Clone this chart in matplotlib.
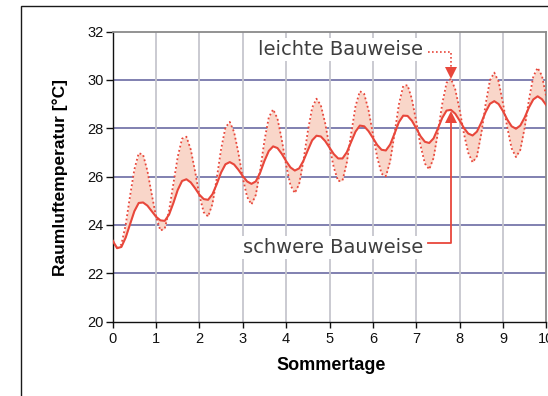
import numpy as np
import matplotlib
matplotlib.use("Agg")
import matplotlib.pyplot as plt
from matplotlib.patches import Rectangle

# Time axis: summer days, sampled every 0.1 day
days = np.round(np.arange(101) * 0.1, 1)

# Room air temperature [°C], heavy construction (solid line)
heavy = [
    23.35, 23.04, 23.09, 23.48, 24.03, 24.57, 24.91, 24.93, 24.80, 24.57,
    24.34, 24.19, 24.17, 24.43, 24.91, 25.45, 25.82, 25.89, 25.76, 25.52,
    25.25, 25.07, 25.04, 25.27, 25.69, 26.17, 26.51, 26.60, 26.50, 26.28,
    26.02, 25.80, 25.70, 25.80, 26.16, 26.65, 27.06, 27.25, 27.18, 26.94,
    26.64, 26.38, 26.25, 26.34, 26.66, 27.09, 27.50, 27.69, 27.66, 27.47,
    27.20, 26.93, 26.75, 26.75, 27.01, 27.44, 27.86, 28.11, 28.08, 27.88,
    27.60, 27.31, 27.11, 27.08, 27.33, 27.78, 28.25, 28.52, 28.51, 28.31,
    28.00, 27.67, 27.44, 27.39, 27.58, 27.99, 28.43, 28.73, 28.76, 28.60,
    28.32, 28.01, 27.78, 27.70, 27.86, 28.23, 28.67, 29.01, 29.12, 29.00,
    28.71, 28.36, 28.08, 27.98, 28.11, 28.44, 28.86, 29.19, 29.32, 29.20,
    28.95,
]

# Room air temperature [°C], light construction (dotted line)
light = [
    23.35, 23.04, 23.19, 24.01, 25.20, 26.30, 26.97, 26.91, 26.24, 25.27,
    24.35, 23.77, 23.85, 24.60, 25.71, 26.82, 27.57, 27.65, 27.12, 26.22,
    25.21, 24.52, 24.35, 24.87, 25.93, 27.14, 28.03, 28.26, 27.84, 26.97,
    25.94, 25.16, 24.85, 25.24, 26.25, 27.49, 28.45, 28.78, 28.40, 27.52,
    26.47, 25.64, 25.32, 25.69, 26.67, 27.87, 28.85, 29.22, 28.95, 28.21,
    27.23, 26.37, 25.81, 25.84, 26.59, 27.78, 28.91, 29.53, 29.42, 28.75,
    27.77, 26.80, 26.12, 26.01, 26.64, 27.78, 28.98, 29.75, 29.78, 29.21,
    28.28, 27.28, 26.54, 26.30, 26.77, 27.82, 29.01, 29.88, 30.05, 29.61,
    28.77, 27.78, 26.98, 26.59, 26.84, 27.77, 28.99, 29.98, 30.30, 29.93,
    29.04, 28.03, 27.17, 26.81, 27.10, 28.01, 29.18, 30.14, 30.50, 30.17,
    29.29,
]

x_ticks = list(range(0, 11))
y_ticks = [20, 22, 24, 26, 28, 30, 32]
x_label = "Sommertage"
y_label = "Raumluftemperatur [°C]"
label_light = "leichte Bauweise"
label_heavy = "schwere Bauweise"

red = "#e8473b"
fill_col = "#f9d6c9"
text_col = "#3e3e3e"

W, H = 548, 396
fig = plt.figure(figsize=(W / 100, H / 100), dpi=100)
fig.patch.set_facecolor("white")

# outer frame (open to the right and bottom)
fig.patches.append(Rectangle((21 / W, -0.05), 2.0, 1 - 6 / H + 0.05,
                             transform=fig.transFigure, fill=False,
                             edgecolor="#1a1a1a", linewidth=1.0))

left, right = 112.7 / W, 546.3 / W
bottom, top = 1 - 321.7 / H, 1 - 31.5 / H
ax = fig.add_axes([left, bottom, right - left, top - bottom])
ax.set_facecolor("white")
ax.set_xlim(0, 10)
ax.set_ylim(20, 32)

# grid
for yv in y_ticks[1:-1]:
    ax.axhline(yv, color="#7676aa", linewidth=1.3, zorder=1)
for xv in x_ticks[1:-1]:
    ax.axvline(xv, color="#c6c6ce", linewidth=1.3, zorder=1)

# band between the two constructions
ax.fill_between(days, heavy, light, color=fill_col, linewidth=0, zorder=2)
ax.plot(days, light, color=red, linewidth=1.3, linestyle=(0, (1.0, 1.4)),
        zorder=3)
ax.plot(days, heavy, color=red, linewidth=1.5, zorder=4)

# spines and ticks
for s in ("left", "bottom"):
    ax.spines[s].set_color("#111111")
    ax.spines[s].set_linewidth(1.0)
for s in ("top", "right"):
    ax.spines[s].set_color("#8a8a8a")
    ax.spines[s].set_linewidth(1.3)
ax.set_xticks(x_ticks)
ax.set_yticks(y_ticks)
ax.tick_params(axis="y", direction="out", length=5, width=1.0, pad=1.5,
               labelsize=10.5, colors="#111111")
ax.tick_params(axis="x", direction="out", length=4, width=1.0, pad=3.5,
               labelsize=10.5, colors="#111111")
for lab in ax.get_xticklabels() + ax.get_yticklabels():
    lab.set_fontfamily("Liberation Sans")
    lab.set_clip_on(False)

fig.text(331 / W, 1 - 365 / H, x_label, ha="center", va="center",
         fontsize=13, fontweight="bold", family="Liberation Sans")
fig.text(60 / W, 1 - 177 / H, y_label, ha="center", va="center",
         rotation=90, fontsize=12.5, fontweight="bold",
         family="Liberation Sans")

# labels with leader lines to the day-8 peaks
win = (days > 7.5) & (days < 8.2)
i_l = int(np.argmax(np.where(win, light, -np.inf)))
i_h = int(np.argmax(np.where(win, heavy, -np.inf)))
ax_x = days[i_l]

txt_x = 7.16
y_l_text, y_l_lead = 31.03, 31.16
y_h_text, y_h_lead = 22.83, 23.24
bbox = dict(boxstyle="square,pad=0.1", facecolor="white", edgecolor="none")

ax.text(txt_x, y_l_text, label_light, ha="right", va="baseline",
        fontsize=14, color=text_col, family="DejaVu Sans", bbox=bbox,
        zorder=5)
ax.text(txt_x, y_h_text, label_heavy, ha="right", va="baseline",
        fontsize=14, color=text_col, family="DejaVu Sans", bbox=bbox,
        zorder=5)

ax.plot([7.27, ax_x, ax_x], [y_l_lead, y_l_lead, light[i_l] + 0.4],
        color=red, linewidth=1.2, linestyle=(0, (1.0, 1.4)), zorder=6)
ax.plot([ax_x], [light[i_l] + 0.22], marker="v", markersize=8,
        color=red, markeredgewidth=0, zorder=6)
ax.plot([7.27, ax_x, ax_x], [y_h_lead, y_h_lead, heavy[i_h] - 0.45],
        color=red, linewidth=1.3, zorder=6)
ax.plot([ax_x], [heavy[i_h] - 0.30], marker="^", markersize=8,
        color=red, markeredgewidth=0, zorder=6)

fig.savefig("out.png", dpi=100, facecolor="white")
